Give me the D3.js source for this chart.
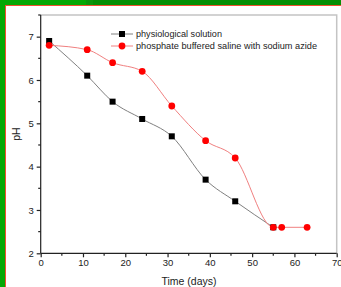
<!DOCTYPE html>
<html><head><meta charset="utf-8">
<script src="https://cdn.jsdelivr.net/npm/d3@7"></script>
<style>html,body{margin:0;padding:0;background:#fff;}svg{display:block;}</style>
</head><body>
<svg id="c" width="341" height="287"></svg>
<script>
const days1 = [2, 11, 17, 24, 31, 39, 46, 55];
const phPhys = [6.9, 6.1, 5.5, 5.1, 4.7, 3.7, 3.2, 2.6];
const days2 = [2, 11, 17, 24, 31, 39, 46, 55, 57, 63];
const phPbs = [6.8, 6.7, 6.4, 6.2, 5.4, 4.6, 4.2, 2.6, 2.6, 2.6];
const xTicks = [0, 10, 20, 30, 40, 50, 60, 70];
const yTicks = [2, 3, 4, 5, 6, 7];
const seriesNames = ["physiological solution", "phosphate buffered saline with sodium azide"];

const svg = d3.select("#c");
const font = "'Liberation Sans', Arial, sans-serif";

// background frame
svg.append("rect").attr("x",0).attr("y",0).attr("width",341).attr("height",287).attr("fill","#05a805");
svg.append("rect").attr("x",86).attr("y",0).attr("width",7).attr("height",6).attr("fill","#0a960a");
svg.append("rect").attr("x",93).attr("y",0).attr("width",248).attr("height",6).attr("fill","#058f05");
svg.append("rect").attr("x",5.5).attr("y",5.5).attr("width",340).attr("height",290).attr("fill","#fff").attr("stroke","#f05030").attr("stroke-width",1);

const L = 40.7, R = 336.7, T = 15, B = 253.3;
const x = d3.scaleLinear().domain([0, 70]).range([L, R]);
const y = d3.scaleLinear().domain([2, 7.5]).range([B, T]);

// grey frame top & right
svg.append("path").attr("d", `M${L},${T}H${R}V${B}`).attr("fill","none").attr("stroke","#c4c4c4").attr("stroke-width",1.5);

// axes
const xAxis = d3.axisBottom(x).tickValues(xTicks).tickSize(4).tickPadding(2).tickFormat(d3.format("d"));
const gx = svg.append("g").attr("transform", `translate(0,${B})`).call(xAxis);
gx.append("g").selectAll("line").data([5,15,25,35,45,55,65]).join("line")
  .attr("x1", d=>x(d)).attr("x2", d=>x(d)).attr("y1",0).attr("y2",2.5).attr("stroke","#222").attr("stroke-width",1.2);
const yAxis = d3.axisLeft(y).tickValues(yTicks).tickSize(4).tickPadding(3).tickFormat(d3.format("d"));
const gy = svg.append("g").attr("transform", `translate(${L},0)`).call(yAxis);
gy.append("g").selectAll("line").data([2.5,3.5,4.5,5.5,6.5,7.5]).join("line")
  .attr("y1", d=>y(d)).attr("y2", d=>y(d)).attr("x1",0).attr("x2",-2.5).attr("stroke","#222").attr("stroke-width",1.2);
[gx, gy].forEach(g => {
  g.select(".domain").attr("stroke","#222").attr("stroke-width",1.2);
  g.selectAll(".tick line").attr("stroke","#222").attr("stroke-width",1.2);
  g.selectAll("text").attr("font-family", font).attr("font-size", 9.5).attr("fill","#222");
});
gy.select(".domain").attr("d", `M0,${B}V${T}`);
gx.select(".domain").attr("d", `M${L},0H${R}`);

// axis titles
svg.append("text").attr("x", 189).attr("y", 285).attr("text-anchor","middle")
  .attr("font-family", font).attr("font-size", 10.5).attr("fill","#222").text("Time (days)");
svg.append("text").attr("transform", `translate(20,${(T+B)/2}) rotate(-90)`).attr("text-anchor","middle")
  .attr("font-family", font).attr("font-size", 10.5).attr("fill","#222").text("pH");

// lines
const line = d3.line().curve(d3.curveMonotoneX).x(d=>x(d[0])).y(d=>y(d[1]));
const d1 = days1.map((d,i)=>[d, phPhys[i]]);
const d2 = days2.map((d,i)=>[d, phPbs[i]]);
svg.append("path").attr("d", line(d1)).attr("fill","none").attr("stroke","#808080").attr("stroke-width",1);
svg.append("path").attr("d", line(d2)).attr("fill","none").attr("stroke","#f08080").attr("stroke-width",1);

// markers
svg.append("g").selectAll("rect").data(d1).join("rect")
  .attr("x", d=>x(d[0])-3).attr("y", d=>y(d[1])-3).attr("width",6).attr("height",6).attr("fill","#000");
svg.append("g").selectAll("circle").data(d2).join("circle")
  .attr("cx", d=>x(d[0])).attr("cy", d=>y(d[1])).attr("r",3.4).attr("fill","#ff0000");

// legend
const lg = svg.append("g");
const ly = [34, 46];
const lw = [86, 181];
lg.append("line").attr("x1",111).attr("x2",133).attr("y1",ly[0]).attr("y2",ly[0]).attr("stroke","#808080");
lg.append("rect").attr("x",122-3).attr("y",ly[0]-3).attr("width",6).attr("height",6).attr("fill","#000");
lg.append("line").attr("x1",111).attr("x2",133).attr("y1",ly[1]).attr("y2",ly[1]).attr("stroke","#f08080");
lg.append("circle").attr("cx",122).attr("cy",ly[1]).attr("r",3.4).attr("fill","#ff0000");
seriesNames.forEach((n,i) => {
  lg.append("text").attr("x",136).attr("y",ly[i]+3.3).attr("font-family", font).attr("font-size", 9.4)
    .attr("textLength", lw[i]).attr("lengthAdjust","spacingAndGlyphs")
    .attr("fill","#222").text(n);
});
</script>
</body></html>
